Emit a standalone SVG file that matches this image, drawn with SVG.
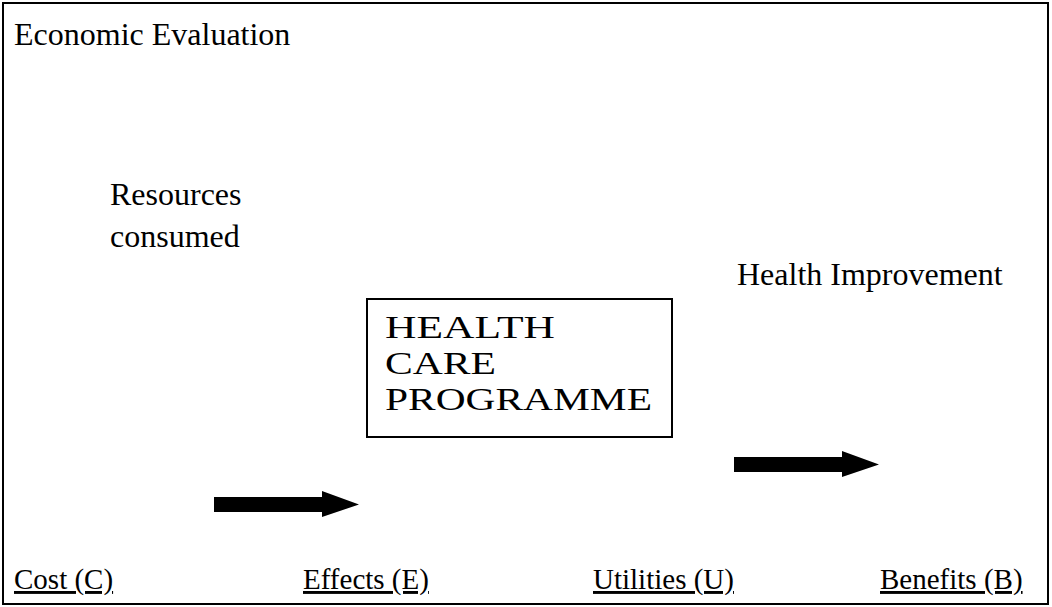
<svg xmlns="http://www.w3.org/2000/svg" width="1052" height="607" viewBox="0 0 1052 607">
<style>
text{font-family:"Liberation Serif","Times New Roman",serif;fill:#000}
.t{font-size:32px}
.p{font-size:31px}
.b{font-size:29px;text-decoration:underline}
.box{fill:#fff;stroke:#000;stroke-width:2}
.arrow{fill:#000;stroke:none}
</style>
<rect x="0" y="0" width="1052" height="607" fill="#fff"/>
<rect x="3" y="3" width="1045" height="601" fill="none" stroke="#000" stroke-width="2"/>
<text class="t" x="14" y="45">Economic Evaluation</text>
<g id="resources"><text class="t" x="110" y="205">Resources</text><text class="t" x="110" y="247">consumed</text></g>
<g id="health-improvement"><text class="t" x="737" y="285">Health Improvement</text></g>
<g id="programme">
<rect class="box" x="367" y="299" width="305" height="138"/>
<text class="p" x="385" y="338" textLength="170" lengthAdjust="spacingAndGlyphs">HEALTH</text>
<text class="p" x="385" y="374" textLength="111" lengthAdjust="spacingAndGlyphs">CARE</text>
<text class="p" x="385" y="410" textLength="267" lengthAdjust="spacingAndGlyphs">PROGRAMME</text>
</g>
<g id="connectors">
<polygon class="arrow" points="214,497 322,497 322,491 359,504.5 322,517 322,512 214,512"/>
<polygon class="arrow" points="734,457 842,457 842,451 879,464.5 842,477 842,472 734,472"/>
</g>
<g id="cost"><text class="b" x="14" y="589">Cost (C)</text></g>
<g id="effects"><text class="b" x="303" y="589">Effects (E)</text></g>
<g id="utilities"><text class="b" x="593" y="589">Utilities (U)</text></g>
<g id="benefits"><text class="b" x="880" y="589">Benefits (B)</text></g>
</svg>
